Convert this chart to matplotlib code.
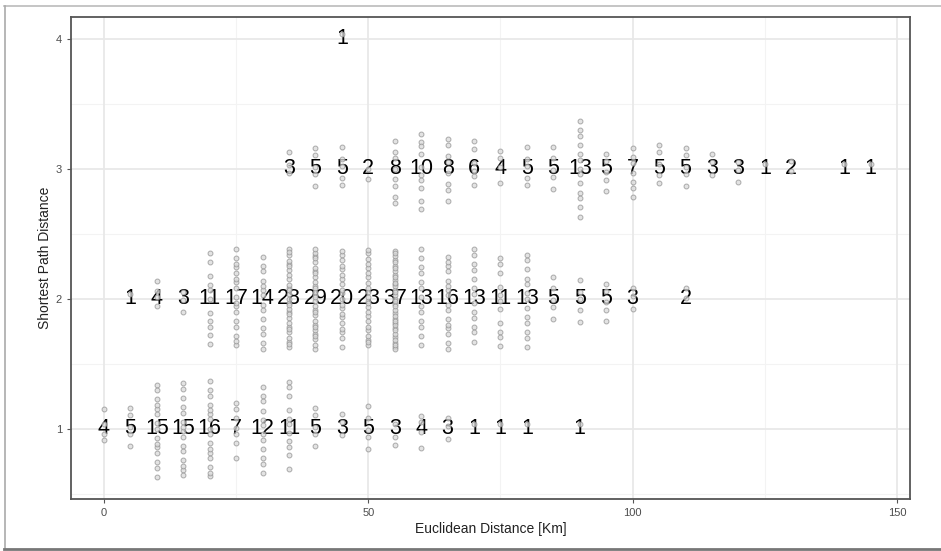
import matplotlib
matplotlib.use("Agg")
import matplotlib.pyplot as plt
from matplotlib.lines import Line2D
import numpy as np

plt.rcParams['font.family'] = ['Liberation Sans', 'DejaVu Sans']

# ---- data ----
# shortest path distance = 1
x_sp1 = [0, 5, 10, 15, 20, 25, 30, 35, 40, 45, 50, 55, 60, 65, 70, 75, 80, 90]
n_sp1 = [4, 5, 15, 15, 16, 7, 12, 11, 5, 3, 5, 3, 4, 3, 1, 1, 1, 1]
# shortest path distance = 2
x_sp2 = [5, 10, 15, 20, 25, 30, 35, 40, 45, 50, 55, 60, 65, 70, 75, 80, 85, 90, 95, 100, 110]
n_sp2 = [1, 4, 3, 11, 17, 14, 28, 29, 20, 23, 37, 13, 16, 13, 11, 13, 5, 5, 5, 3, 2]
# shortest path distance = 3
x_sp3 = [35, 40, 45, 50, 55, 60, 65, 70, 75, 80, 85, 90, 95, 100, 105, 110, 115, 120, 125, 130, 140, 145]
n_sp3 = [3, 5, 5, 2, 8, 10, 8, 6, 4, 5, 5, 13, 5, 7, 5, 5, 3, 3, 1, 2, 1, 1]
# shortest path distance = 4
x_sp4 = [45]
n_sp4 = [1]

x_ticks = [0, 50, 100, 150]
y_ticks = [1, 2, 3, 4]
x_label = "Euclidean Distance [Km]"
y_label = "Shortest Path Distance"

groups = [(1, x_sp1, n_sp1), (2, x_sp2, n_sp2), (3, x_sp3, n_sp3), (4, x_sp4, n_sp4)]

fig = plt.figure(figsize=(9.41, 5.51), dpi=100)
ax = fig.add_axes([71 / 941, 1 - 499 / 551, (910 - 71) / 941, (499 - 17) / 551])

ax.set_xlim(-6.24, 152.46)
ax.set_ylim(0.46, 4.169)

# grid (theme_bw look)
for v in [25, 75, 125]:
    ax.axvline(v, color='#f3f3f3', lw=0.8, zorder=0)
for v in [0.5, 1.5, 2.5, 3.5]:
    ax.axhline(v, color='#f3f3f3', lw=0.8, zorder=0)
for v in x_ticks:
    ax.axvline(v, color='#e8e8e8', lw=1.3, zorder=0)
for v in y_ticks:
    ax.axhline(v, color='#e8e8e8', lw=1.3, zorder=0)

# labels (counts) and jittered points (vertical jitter, deterministic spread;
# the jitter is only a display offset, not data)
golden = 0.6180339887
for yv, xs, ns in groups:
    for xv, n in zip(xs, ns):
        ax.text(xv, yv, str(n), ha='center', va='center', fontsize=15.5,
                color='black', zorder=2)
        k = np.arange(n)
        half = min(0.39, 0.04 + 0.03 * n)
        offs = ((k * golden + 0.37 + 0.11 * (xv % 7)) % 1.0 - 0.5) * 2 * half
        if n == 1:
            offs = np.array([0.04])
        ax.plot(np.full(n, xv), yv + offs, 'o', ms=3.5, mfc='#dadada',
                mec='#929292', mew=0.7, alpha=0.75, zorder=3, linestyle='none')

ax.set_xticks(x_ticks)
ax.set_yticks(y_ticks)
ax.tick_params(axis='both', colors='#555555', labelcolor='#4d4d4d',
               labelsize=8, length=3, width=0.8)
for s in ax.spines.values():
    s.set_color('#555555')
    s.set_linewidth(1.3)

ax.set_xlabel(x_label, fontsize=10, color='#222222', labelpad=3)
ax.set_ylabel(y_label, fontsize=10, color='#222222', labelpad=3)

# outer frame of the screenshot
fig.add_artist(Line2D([4 / 941, 1.0], [1 - 5.5 / 551] * 2, transform=fig.transFigure,
                      color='#bbbbbb', lw=1.2))
fig.add_artist(Line2D([4.5 / 941] * 2, [1 - 5.5 / 551, 1 - 548 / 551], transform=fig.transFigure,
                      color='#aaaaaa', lw=1.2))
fig.add_artist(Line2D([4 / 941, 1.0], [1 - 548.5 / 551] * 2, transform=fig.transFigure,
                      color='#777777', lw=2.0))

fig.savefig("out.png", dpi=100)
